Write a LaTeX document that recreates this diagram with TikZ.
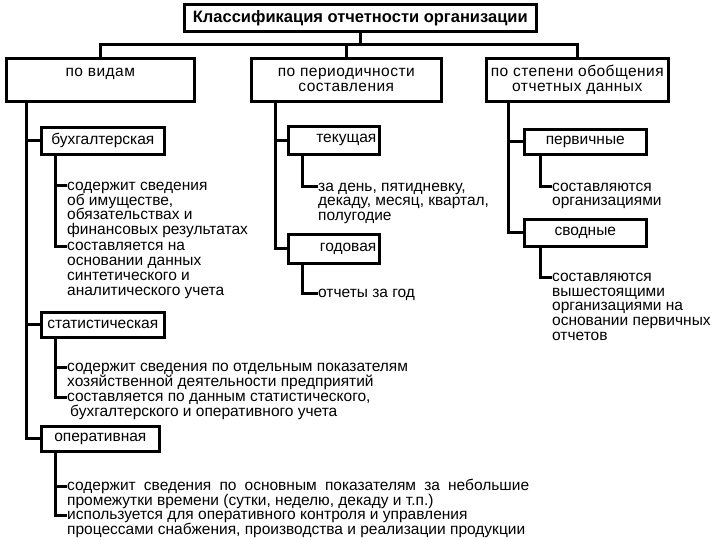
\documentclass[tikz,border=0pt]{standalone}
\usepackage{fontspec}
\setmainfont{Liberation Sans}
\usetikzlibrary{positioning}
\newcommand{\fl}[1]{\rule{0pt}{9pt}\smash{#1}}

\begin{document}
\lineskiplimit=-20pt
\begin{tikzpicture}[x=1pt,y=-1pt,
  font=\fontsize{15.5}{14.8}\selectfont,
  box/.style={draw=black,line width=2.6pt,fill=white,inner sep=0pt},
  headbox/.style={box,anchor=north west,align=center,minimum height=43,
                  font=\fontsize{15.5}{15}\selectfont\addfontfeature{LetterSpace=3}},
  kindbox/.style={box,anchor=north west,align=left,inner xsep=8pt},
  conn/.style={draw=black,line width=3pt},
  txt/.style={anchor=north west,align=left,inner sep=0pt}]
\useasboundingbox (0,0) rectangle (720,540);

% root and three criteria
\node[box,anchor=north west,minimum width=352,minimum height=27,
      font=\fontsize{16.5}{14.8}\selectfont\bfseries]
  (root) at (183,3) {Классификация отчетности организации};
\node[headbox,minimum width=188] (vid) at (5,57) {по видам\\\mbox{}};
\node[headbox,minimum width=190] (period) at (250,57) {по периодичности\\составления};
\node[headbox,minimum width=182] (stepen) at (485,57) {по степени обобщения\\отчетных данных};
\coordinate (bus) at (0,45);
\draw[conn] (root.south) -- (root.south |- bus);
\draw[conn] (vid.north) -- (vid.north |- bus) -- (stepen.north |- bus) -- (stepen.north);
\draw[conn] (period.north) -- (period.north |- bus);

% по видам
\node[kindbox,minimum width=123,minimum height=27] (buh) at (40,126) {бухгалтерская};
\node[kindbox,minimum width=123,minimum height=25,inner xsep=6pt] (stat) at (40,311) {статистическая};
\node[kindbox,minimum width=118,minimum height=25,inner xsep=10pt] (oper) at (40,425) {оперативная};
\draw[conn] (oper.west) -| ([xshift=21pt]vid.south west);
\draw[conn] (buh.west) -| ([xshift=21pt]vid.south west);
\draw[conn] (stat.west) -| ([xshift=21pt]vid.south west);

\node[txt] (buha) at (67,181) {\fl{содержит сведения}\\об имуществе,\\обязательствах и\\финансовых результатах};
\node[txt] (buhb) at (67,241.5) {\fl{составляется на}\\основании данных\\синтетического и\\аналитического учета};
\draw[conn] ([yshift=-5pt]buha.north west) -| ([xshift=15pt]buh.south west);
\draw[conn] ([yshift=-5pt]buhb.north west) -| ([xshift=15pt]buh.south west);

\node[txt] (stata) at (67,362) {\fl{содержит сведения по отдельным показателям}\\хозяйственной деятельности предприятий};
\node[txt] (statb) at (67,392) {\fl{составляется по данным статистического,}\\\hspace{3pt}бухгалтерского и оперативного учета};
\draw[conn] ([yshift=-5pt]stata.north west) -| ([xshift=15pt]stat.south west);
\draw[conn] ([yshift=-5pt]statb.north west) -| ([xshift=15pt]stat.south west);

\node[txt] (opera) at (67,481) {\fl{\makebox[462pt][s]{содержит сведения по основным показателям за небольшие}}\\промежутки времени (сутки, неделю, декаду и т.п.)};
\node[txt] (operb) at (67,510) {\fl{используется для оперативного контроля и управления}\\процессами снабжения, производства и реализации продукции};
\draw[conn] ([yshift=-5pt]opera.north west) -| ([xshift=15pt]oper.south west);
\draw[conn] ([yshift=-5pt]operb.north west) -| ([xshift=15pt]oper.south west);

% по периодичности
\node[box,anchor=north west,minimum width=91,minimum height=28,text width=85,align=right,inner xsep=3pt]
  (tek) at (287,125) {текущая};
\node[box,anchor=north west,minimum width=91,minimum height=29,text width=85,align=right,inner xsep=3pt]
  (god) at (287,233) {годовая};
\draw[conn] (tek.west) -| ([xshift=25pt]period.south west);
\draw[conn] (god.west) -| ([xshift=25pt]period.south west);
\node[txt] (teka) at (318,182) {\fl{за день, пятидневку,}\\декаду, месяц, квартал,\\полугодие};
\node[txt] (goda) at (318,288) {\fl{отчеты за год}};
\draw[conn] ([yshift=-5pt]teka.north west) -| ([xshift=15pt]tek.south west);
\draw[conn] ([yshift=-5pt]goda.north west) -| ([xshift=15pt]god.south west);

% по степени обобщения
\node[box,anchor=north west,minimum width=122,minimum height=25] (perv) at (523,128) {первичные};
\node[box,anchor=north west,minimum width=122,minimum height=27] (svod) at (523,218) {сводные};
\draw[conn] (perv.west) -| ([xshift=23pt]stepen.south west);
\draw[conn] (svod.west) -| ([xshift=23pt]stepen.south west);
\node[txt] (perva) at (552,182) {\fl{составляются}\\организациями};
\node[txt] (svoda) at (552,272) {\fl{составляются}\\вышестоящими\\организациями на\\основании первичных\\отчетов};
\draw[conn] ([yshift=-5pt]perva.north west) -| ([xshift=17pt]perv.south west);
\draw[conn] ([yshift=-5pt]svoda.north west) -| ([xshift=17pt]svod.south west);
\end{tikzpicture}
\end{document}
